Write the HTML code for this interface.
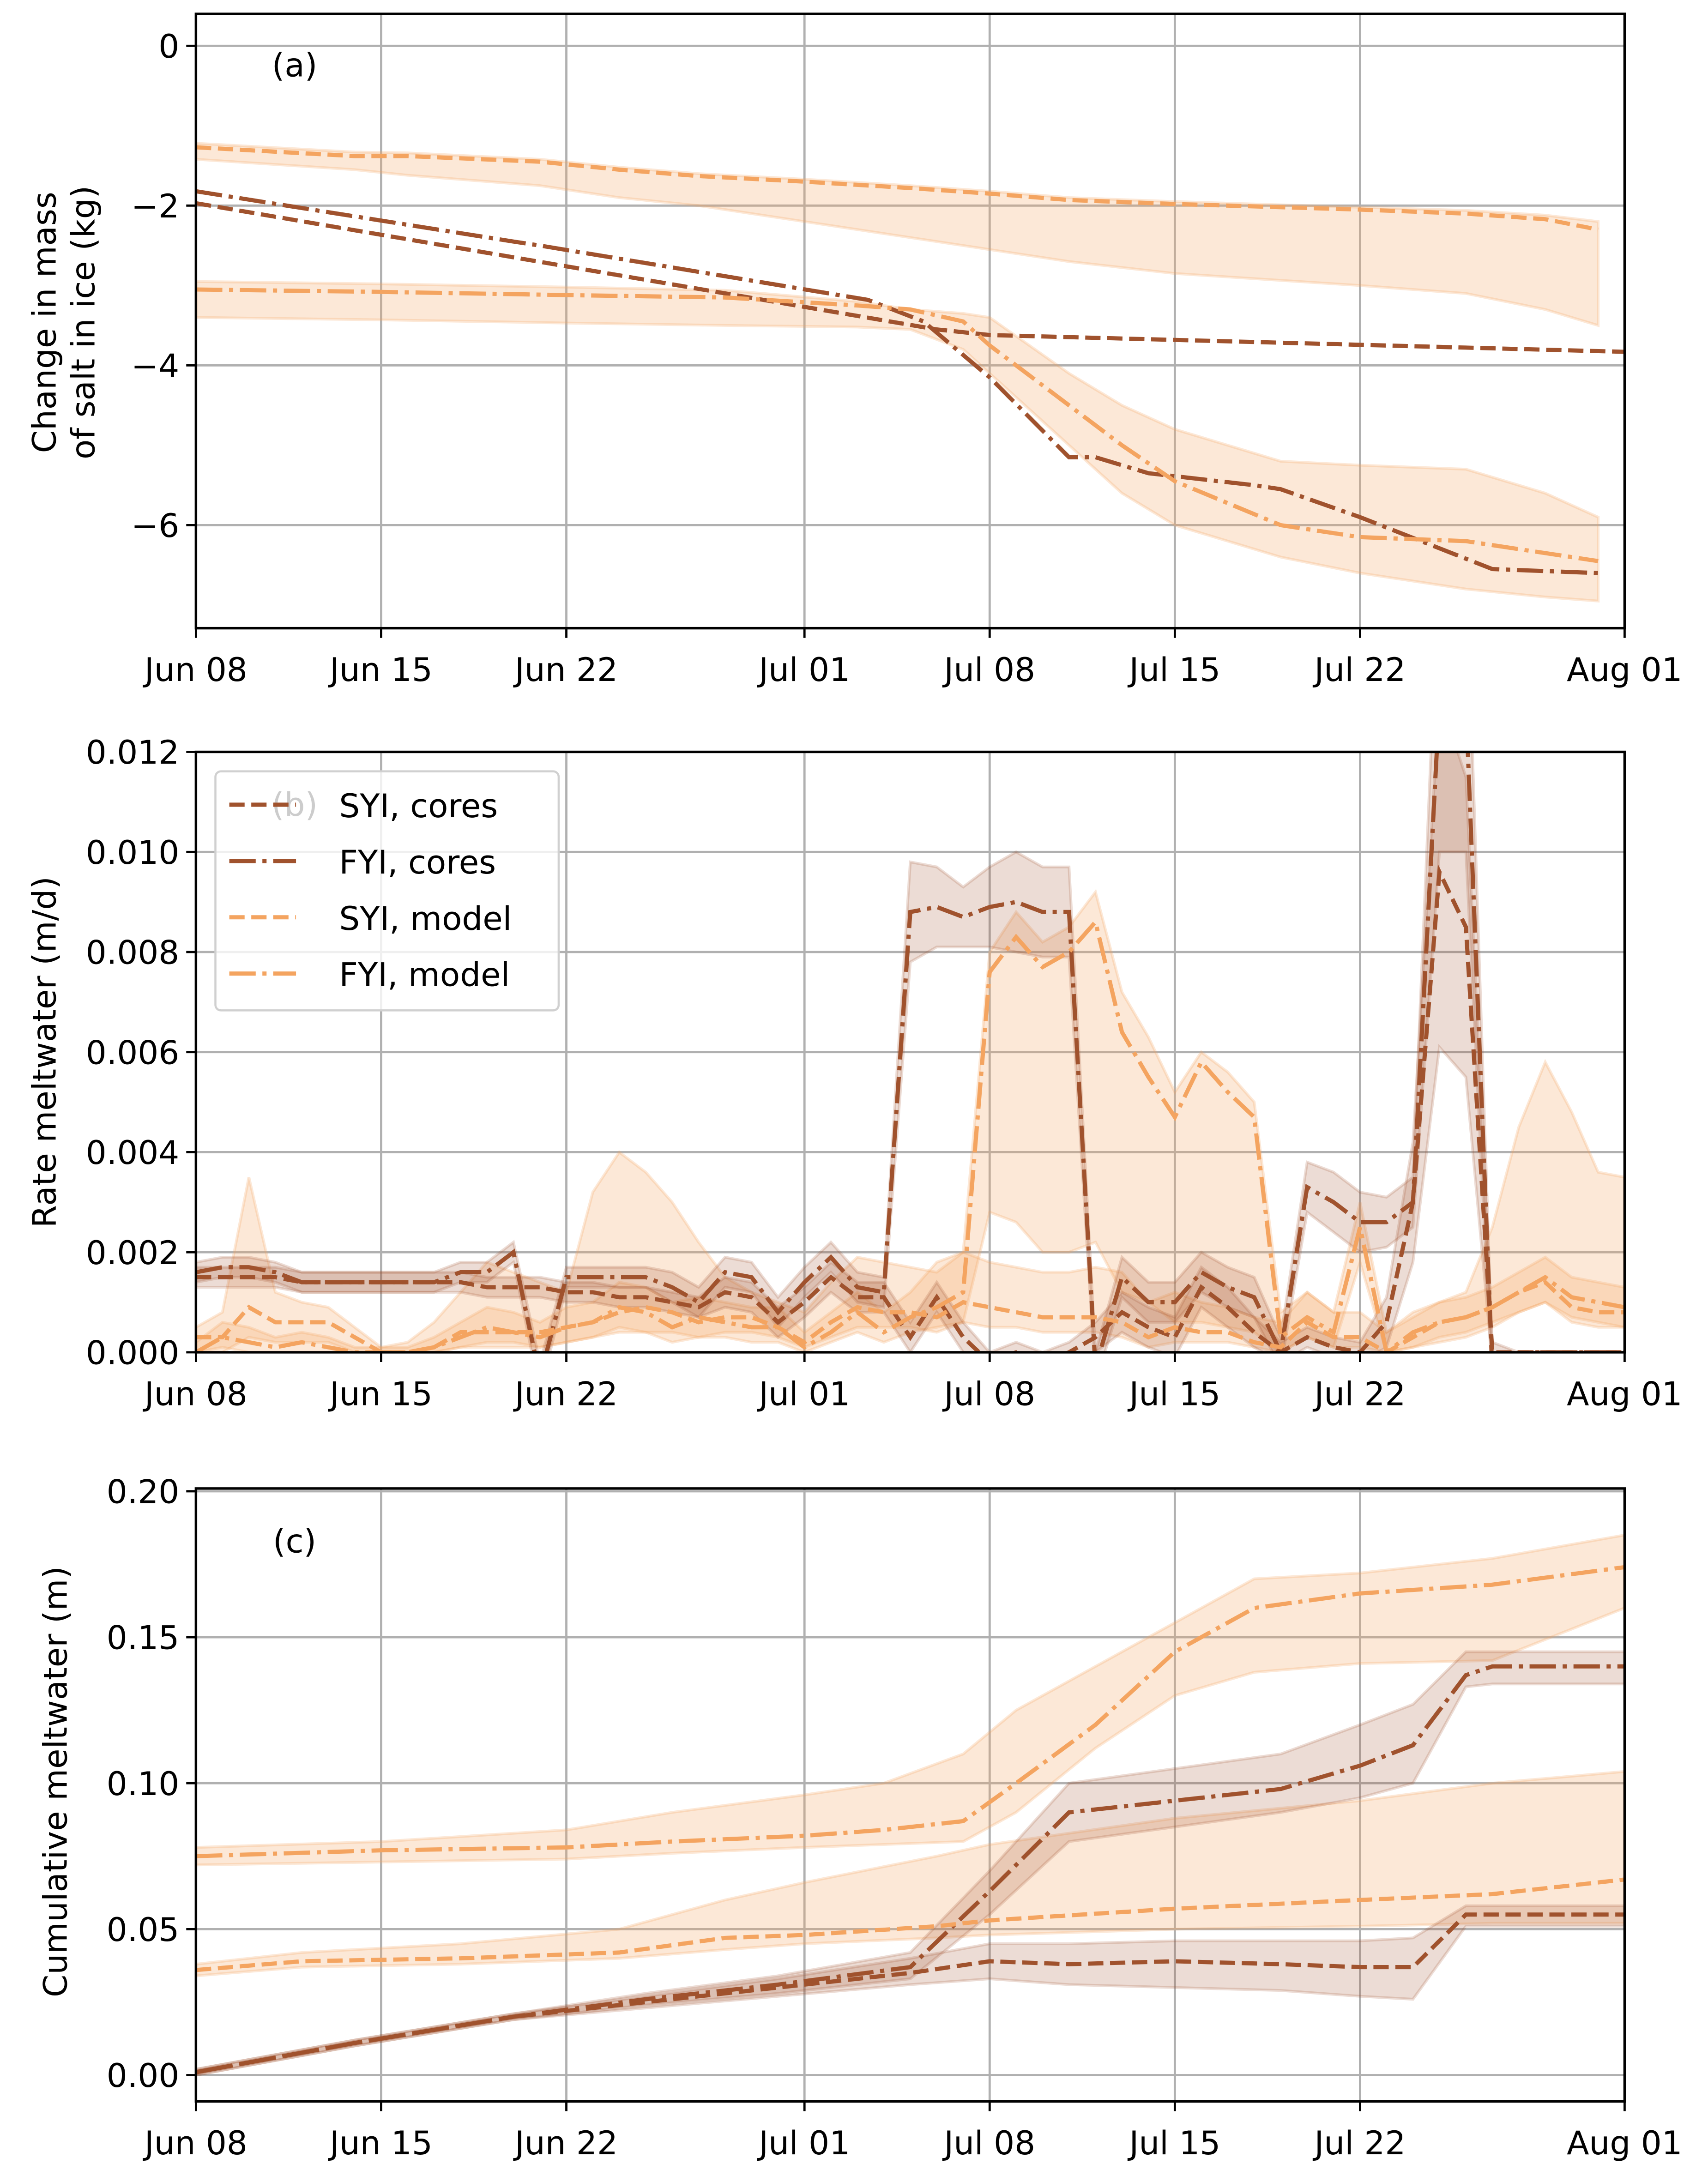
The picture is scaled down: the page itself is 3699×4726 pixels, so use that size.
<!DOCTYPE html>
<html><head><meta charset="utf-8"><style>html,body{margin:0;padding:0;background:#fff}svg{display:block}</style></head>
<body>
<svg id="fig" width="3699" height="4726" viewBox="0 0 1229 1570" preserveAspectRatio="none" xmlns="http://www.w3.org/2000/svg" font-family="DejaVu Sans, Liberation Sans, sans-serif"></svg>
<script>
// ---------- shared x axis ----------
const xTickDays = [0, 7, 14, 23, 30, 37, 44, 54];
const xTickLabels = ["Jun 08","Jun 15","Jun 22","Jul 01","Jul 08","Jul 15","Jul 22","Aug 01"];

// ---------- panel (a) data ----------
const aSyiCoreDays = [0, 28, 30, 54];
const aSyiCoreVals = [-1.97, -3.55, -3.62, -3.83];
const aFyiCoreDays = [0, 12, 13, 25.4, 27.5, 30, 33, 34, 36, 40, 41, 44, 49, 53];
const aFyiCoreVals = [-1.82, -2.45, -2.5, -3.18, -3.45, -4.15, -5.15, -5.15, -5.35, -5.5, -5.55, -5.9, -6.55, -6.6];
const aSyiModDays = [0, 6, 8, 13, 16, 19, 23, 27, 30, 33, 37, 44, 48, 51, 53];
const aSyiModVals = [-1.27, -1.38, -1.38, -1.45, -1.55, -1.63, -1.7, -1.78, -1.85, -1.93, -1.98, -2.05, -2.1, -2.17, -2.3];
const aSyiModHi = [-1.22, -1.33, -1.34, -1.42, -1.52, -1.6, -1.67, -1.75, -1.82, -1.9, -1.95, -2.02, -2.06, -2.12, -2.2];
const aSyiModLo = [-1.42, -1.55, -1.62, -1.75, -1.9, -2.0, -2.2, -2.4, -2.55, -2.7, -2.85, -3.0, -3.1, -3.3, -3.5];
const aFyiModDays = [0, 7, 14, 20, 25, 27, 29, 30, 33, 35, 37, 41, 44, 48, 51, 53];
const aFyiModVals = [-3.05, -3.08, -3.12, -3.15, -3.25, -3.3, -3.45, -3.75, -4.5, -5.0, -5.45, -6.0, -6.15, -6.2, -6.35, -6.45];
const aFyiModHi = [-2.95, -2.98, -3.02, -3.06, -3.2, -3.3, -3.35, -3.4, -4.1, -4.5, -4.8, -5.2, -5.25, -5.3, -5.6, -5.9];
const aFyiModLo = [-3.4, -3.43, -3.47, -3.5, -3.52, -3.55, -3.8, -4.1, -5.0, -5.6, -6.0, -6.4, -6.6, -6.8, -6.9, -6.95];
const aYTicks = [0, -2, -4, -6];

// ---------- panel (b) data (daily, Jun 08 .. Aug 01) ----------
const bDays = Array.from({length:55},(_, i)=>i);
const bFyiCore = [0.0016,0.0017,0.0017,0.0016,0.0014,0.0014,0.0014,0.0014,0.0014,0.0014,0.0016,0.0016,0.0020,-0.0005,0.0015,0.0015,0.0015,0.0015,0.0013,0.0010,0.0016,0.0015,0.0008,0.0014,0.0019,0.0013,0.0012,0.0088,0.0089,0.0087,0.0089,0.0090,0.0088,0.0088,-0.0003,0.0015,0.0010,0.0010,0.0016,0.0013,0.0011,0.0000,0.0033,0.0030,0.0026,0.0026,0.0030,0.0130,0.0130,-0.0004,0.0000,0.0000,0.0000,0.0000,0.0000];
const bFyiCoreSpread = [0.0002,0.0002,0.0002,0.0002,0.0002,0.0002,0.0002,0.0002,0.0002,0.0002,0.0002,0.0002,0.0002,0.0003,0.0002,0.0002,0.0002,0.0002,0.0003,0.0003,0.0003,0.0003,0.0003,0.0003,0.0003,0.0003,0.0003,0.0010,0.0008,0.0006,0.0008,0.0010,0.0009,0.0009,0.0003,0.0004,0.0004,0.0004,0.0004,0.0004,0.0004,0.0003,0.0005,0.0006,0.0006,0.0005,0.0005,0.0030,0.0030,0.0003,0.0000,0.0000,0.0000,0.0000,0.0000];
const bSyiCore = [0.0015,0.0015,0.0015,0.0015,0.0014,0.0014,0.0014,0.0014,0.0014,0.0014,0.0014,0.0013,0.0013,0.0013,0.0012,0.0012,0.0011,0.0011,0.0010,0.0009,0.0012,0.0011,0.0006,0.0010,0.0015,0.0011,0.0011,0.0003,0.0011,0.0003,-0.0002,0.0000,-0.0002,0.0000,0.0003,0.0008,0.0005,0.0003,0.0013,0.0009,0.0004,0.0000,0.0003,0.0001,0.0000,0.0006,0.0030,0.0096,0.0085,0.0000,0.0000,0.0000,0.0000,0.0000,0.0000];
const bSyiCoreSpread = [0.0002,0.0002,0.0002,0.0002,0.0002,0.0002,0.0002,0.0002,0.0002,0.0002,0.0002,0.0002,0.0002,0.0002,0.0002,0.0002,0.0002,0.0002,0.0002,0.0002,0.0003,0.0003,0.0003,0.0003,0.0003,0.0003,0.0003,0.0003,0.0003,0.0003,0.0002,0.0002,0.0002,0.0002,0.0003,0.0004,0.0004,0.0004,0.0004,0.0004,0.0003,0.0002,0.0002,0.0002,0.0002,0.0005,0.0012,0.0035,0.0030,0.0002,0.0000,0.0000,0.0000,0.0000,0.0000];
const bSyiMod = [0.0003,0.0003,0.0009,0.0006,0.0006,0.0006,0.0003,0.0000,0.0000,0.0001,0.0004,0.0004,0.0004,0.0004,0.0005,0.0006,0.0008,0.0009,0.0008,0.0006,0.0007,0.0007,0.0005,0.0002,0.0006,0.0009,0.0008,0.0008,0.0007,0.0010,0.0009,0.0008,0.0007,0.0007,0.0007,0.0006,0.0003,0.0005,0.0004,0.0004,0.0002,0.0001,0.0006,0.0003,0.0003,0.0000,0.0003,0.0006,0.0007,0.0009,0.0012,0.0014,0.0009,0.0008,0.0008];
const bSyiModHi = [0.0005,0.0008,0.0035,0.0012,0.0010,0.0009,0.0005,0.0001,0.0002,0.0006,0.0012,0.0018,0.0016,0.0014,0.0012,0.0032,0.0040,0.0036,0.0030,0.0022,0.0015,0.0012,0.0010,0.0008,0.0014,0.0019,0.0018,0.0017,0.0016,0.0020,0.0018,0.0017,0.0016,0.0016,0.0017,0.0016,0.0010,0.0012,0.0010,0.0009,0.0007,0.0006,0.0012,0.0008,0.0008,0.0004,0.0007,0.0010,0.0012,0.0025,0.0045,0.0058,0.0048,0.0036,0.0035];
const bSyiModLo = [0.0000,0.0000,0.0003,0.0002,0.0002,0.0002,0.0000,0.0000,0.0000,0.0000,0.0001,0.0001,0.0001,0.0001,0.0002,0.0003,0.0004,0.0004,0.0004,0.0003,0.0004,0.0004,0.0003,0.0001,0.0003,0.0005,0.0005,0.0005,0.0004,0.0006,0.0005,0.0005,0.0004,0.0004,0.0004,0.0003,0.0001,0.0002,0.0002,0.0002,0.0001,0.0000,0.0003,0.0001,0.0001,0.0000,0.0001,0.0003,0.0004,0.0006,0.0008,0.0010,0.0006,0.0005,0.0005];
const bFyiMod = [0.0000,0.0003,0.0002,0.0001,0.0002,0.0001,0.0000,0.0000,0.0000,0.0001,0.0003,0.0005,0.0004,0.0003,0.0005,0.0006,0.0009,0.0008,0.0005,0.0007,0.0006,0.0005,0.0005,0.0001,0.0004,0.0008,0.0004,0.0007,0.0009,0.0012,0.0076,0.0083,0.0077,0.0080,0.0086,0.0064,0.0055,0.0047,0.0058,0.0052,0.0047,0.0003,0.0007,0.0004,0.0025,0.0000,0.0004,0.0006,0.0007,0.0009,0.0012,0.0015,0.0011,0.0010,0.0009];
const bFyiModHi = [0.0002,0.0006,0.0005,0.0003,0.0004,0.0003,0.0001,0.0001,0.0001,0.0003,0.0006,0.0009,0.0008,0.0006,0.0009,0.0010,0.0014,0.0013,0.0010,0.0011,0.0010,0.0009,0.0009,0.0004,0.0008,0.0012,0.0008,0.0012,0.0018,0.0020,0.0080,0.0088,0.0082,0.0085,0.0092,0.0072,0.0063,0.0052,0.0060,0.0056,0.0050,0.0008,0.0012,0.0008,0.0030,0.0004,0.0008,0.0010,0.0011,0.0013,0.0016,0.0019,0.0015,0.0014,0.0013];
const bFyiModLo = [0.0000,0.0001,0.0000,0.0000,0.0000,0.0000,0.0000,0.0000,0.0000,0.0000,0.0001,0.0002,0.0002,0.0001,0.0002,0.0003,0.0005,0.0004,0.0002,0.0003,0.0003,0.0002,0.0002,0.0000,0.0002,0.0004,0.0002,0.0004,0.0005,0.0006,0.0028,0.0026,0.0020,0.0020,0.0022,0.0012,0.0010,0.0006,0.0006,0.0005,0.0004,0.0000,0.0003,0.0001,0.0018,0.0000,0.0001,0.0002,0.0003,0.0005,0.0008,0.0010,0.0007,0.0006,0.0005];
const bYTicks = [0, 0.002, 0.004, 0.006, 0.008, 0.010, 0.012];
const bYTickLabels = ["0.000","0.002","0.004","0.006","0.008","0.010","0.012"];

// ---------- panel (c) data ----------
const cSyiCoreDays = [0, 6, 12, 17, 22, 27, 30, 33, 37, 41, 44, 46, 48, 54];
const cSyiCoreVals = [0.001, 0.011, 0.020, 0.025, 0.030, 0.035, 0.039, 0.038, 0.039, 0.038, 0.037, 0.037, 0.055, 0.055];
const cSyiCoreHi = [0.002, 0.012, 0.021, 0.027, 0.033, 0.040, 0.045, 0.045, 0.046, 0.046, 0.046, 0.047, 0.058, 0.058];
const cSyiCoreLo = [0.000, 0.010, 0.019, 0.023, 0.027, 0.031, 0.033, 0.031, 0.030, 0.029, 0.027, 0.026, 0.051, 0.051];
const cFyiCoreDays = [0, 6, 12, 17, 22, 27, 30, 33, 37, 41, 44, 46, 48, 49, 54];
const cFyiCoreVals = [0.001, 0.011, 0.020, 0.026, 0.031, 0.037, 0.063, 0.090, 0.094, 0.098, 0.106, 0.113, 0.137, 0.140, 0.140];
const cFyiCoreHi = [0.002, 0.012, 0.021, 0.028, 0.034, 0.042, 0.070, 0.100, 0.105, 0.110, 0.120, 0.127, 0.145, 0.145, 0.145];
const cFyiCoreLo = [0.000, 0.010, 0.019, 0.024, 0.028, 0.033, 0.055, 0.080, 0.085, 0.090, 0.095, 0.100, 0.133, 0.134, 0.134];
const cSyiModDays = [0, 4, 10, 16, 20, 23, 28, 30, 37, 44, 49, 54];
const cSyiModVals = [0.036, 0.039, 0.040, 0.042, 0.047, 0.048, 0.051, 0.053, 0.057, 0.060, 0.062, 0.067];
const cSyiModHi = [0.038, 0.042, 0.045, 0.050, 0.060, 0.066, 0.075, 0.079, 0.088, 0.094, 0.100, 0.104];
const cSyiModLo = [0.034, 0.037, 0.038, 0.040, 0.043, 0.045, 0.047, 0.048, 0.050, 0.051, 0.052, 0.052];
const cFyiModDays = [0, 7, 14, 18, 23, 26, 29, 31, 34, 37, 40, 44, 49, 54];
const cFyiModVals = [0.075, 0.077, 0.078, 0.080, 0.082, 0.084, 0.087, 0.100, 0.120, 0.145, 0.160, 0.165, 0.168, 0.174];
const cFyiModHi = [0.078, 0.080, 0.084, 0.090, 0.096, 0.100, 0.110, 0.125, 0.140, 0.155, 0.170, 0.172, 0.177, 0.185];
const cFyiModLo = [0.072, 0.073, 0.074, 0.076, 0.078, 0.079, 0.080, 0.090, 0.112, 0.130, 0.138, 0.141, 0.142, 0.160];
const cYTicks = [0, 0.05, 0.10, 0.15, 0.20];
const cYTickLabels = ["0.00","0.05","0.10","0.15","0.20"];

// ---------- drawing ----------
const NS = "http://www.w3.org/2000/svg";
const svg = document.getElementById("fig");
const DARK = "#a0522d", LIGHT = "#f4a460";
const DASH = "11,4.8", DASHDOT = "19,4.8,3,4.8";
const FS = 23.5;
const X0 = 141, X1 = 1169, DAYSPAN = 54;
function xs(d){ return X0 + (X1 - X0) * d / DAYSPAN; }
function mk(tag, attrs, parent){ const e = document.createElementNS(NS, tag); for (const k in attrs) e.setAttribute(k, attrs[k]); (parent||svg).appendChild(e); return e; }

function panel(id, top, bottom, vTop, vBot, yticks, ylabels){
  const g = mk("g", {});
  
  
  const ys = v => top + (bottom - top) * (vTop - v) / (vTop - vBot);
  const cp = mk("clipPath", {id: "clip-" + id}, g);
  mk("rect", {x: X0, y: top, width: X1 - X0, height: bottom - top}, cp);
  xTickDays.forEach((d, i) => {
    const l = mk("line", {x1: xs(d), x2: xs(d), y1: top, y2: bottom, stroke: "#b0b0b0", "stroke-width": 1.6}, g);
    
    
    mk("line", {x1: xs(d), x2: xs(d), y1: bottom, y2: bottom + 7, stroke: "#000", "stroke-width": 1.6}, g);
    const t = mk("text", {x: xs(d), y: bottom + 38, "font-size": FS, "text-anchor": "middle", fill: "#000"}, g);
    t.textContent = xTickLabels[i];
    
    
  });
  yticks.forEach((v, i) => {
    const l = mk("line", {x1: X0, x2: X1, y1: ys(v), y2: ys(v), stroke: "#b0b0b0", "stroke-width": 1.6}, g);
    
    
    mk("line", {x1: X0 - 7, x2: X0, y1: ys(v), y2: ys(v), stroke: "#000", "stroke-width": 1.6}, g);
    const t = mk("text", {x: X0 - 12, y: ys(v) + 8.5, "font-size": FS, "text-anchor": "end", fill: "#000"}, g);
    t.textContent = ylabels[i];
    
    
  });
  const plot = mk("g", {"clip-path": "url(#clip-" + id + ")"}, g);
  return {g, plot, ys, top, bottom};
}
function band(P, days, lo, hi, color, op, name){
  let d = "";
  days.forEach((x, i) => d += (i ? "L" : "M") + xs(x) + "," + P.ys(hi[i]));
  for (let i = days.length - 1; i >= 0; i--) d += "L" + xs(days[i]) + "," + P.ys(lo[i]);
  const p = mk("path", {d: d + "Z", fill: color, "fill-opacity": op, stroke: color, "stroke-opacity": op, "stroke-width": 2}, P.plot);
  
  
}
function line(P, days, vals, color, dash, name){
  const pts = days.map((x, i) => xs(x) + "," + P.ys(vals[i])).join(" ");
  const p = mk("polyline", {points: pts, fill: "none", stroke: color, "stroke-width": 3, "stroke-dasharray": dash}, P.plot);
  
  
}
function frame(P){
  const r = mk("rect", {x: X0, y: P.top, width: X1 - X0, height: P.bottom - P.top, fill: "none", stroke: "#000", "stroke-width": 1.8}, P.g);
  
  
}
function text(P, x, y, str, size, name, rot, anchor, fill){
  const t = mk("text", {x, y, "font-size": size, "text-anchor": anchor || "middle", fill: fill || "#000"}, P.g);
  if (rot) t.setAttribute("transform", "rotate(-90 " + x + " " + y + ")");
  t.textContent = str;
  
  
  return t;
}
function spreadLo(v, s){ return v.map((x, i) => x - s[i]); }
function spreadHi(v, s){ return v.map((x, i) => x + s[i]); }

// Panel a
const A = panel("a", 10, 452, 0.4, -7.29, aYTicks, aYTicks.map(v => v === 0 ? "0" : "\u2212" + Math.abs(v)));
band(A, aSyiModDays, aSyiModLo, aSyiModHi, LIGHT, 0.25, "syi-model-band");
band(A, aFyiModDays, aFyiModLo, aFyiModHi, LIGHT, 0.25, "fyi-model-band");
line(A, aSyiCoreDays, aSyiCoreVals, DARK, DASH, "syi-cores-line");
line(A, aFyiCoreDays, aFyiCoreVals, DARK, DASHDOT, "fyi-cores-line");
line(A, aSyiModDays, aSyiModVals, LIGHT, DASH, "syi-model-line");
line(A, aFyiModDays, aFyiModVals, LIGHT, DASHDOT, "fyi-model-line");
frame(A);
text(A, 212, 55, "(a)", FS, "panel-label-a");
text(A, 40, 232, "Change in mass", FS, "y-axis-title-a-line1", true);
text(A, 68, 232, "of salt in ice (kg)", FS, "y-axis-title-a-line2", true);

// Panel b
const B = panel("b", 541, 973, 0.012, 0, bYTicks, bYTickLabels);
band(B, bDays, bSyiModLo, bSyiModHi, LIGHT, 0.25, "syi-model-band");
band(B, bDays, bFyiModLo, bFyiModHi, LIGHT, 0.25, "fyi-model-band");
band(B, bDays, spreadLo(bSyiCore, bSyiCoreSpread), spreadHi(bSyiCore, bSyiCoreSpread), DARK, 0.2, "syi-cores-band");
band(B, bDays, spreadLo(bFyiCore, bFyiCoreSpread), spreadHi(bFyiCore, bFyiCoreSpread), DARK, 0.2, "fyi-cores-band");
line(B, bDays, bSyiCore, DARK, DASH, "syi-cores-line");
line(B, bDays, bFyiCore, DARK, DASHDOT, "fyi-cores-line");
line(B, bDays, bSyiMod, LIGHT, DASH, "syi-model-line");
line(B, bDays, bFyiMod, LIGHT, DASHDOT, "fyi-model-line");
frame(B);
text(B, 212, 587, "(b)", FS, "panel-label-b");
text(B, 40, 757, "Rate meltwater (m/d)", FS, "y-axis-title-b", true);
const lg = mk("g", {}, B.g);


mk("rect", {x: 155, y: 555, width: 247, height: 172, rx: 4, fill: "#fff", "fill-opacity": 0.8, stroke: "#d0d0d0", "stroke-width": 1.5}, lg);
const legNames = ["SYI, cores", "FYI, cores", "SYI, model", "FYI, model"];
const legColors = [DARK, DARK, LIGHT, LIGHT];
const legDash = [DASH, DASHDOT, DASH, DASHDOT];
legNames.forEach((n, i) => {
  const y = 579 + i * 40.5;
  const e = mk("g", {}, lg);
  
  
  mk("line", {x1: 165, x2: 213, y1: y, y2: y, stroke: legColors[i], "stroke-width": 3, "stroke-dasharray": legDash[i]}, e);
  const t = mk("text", {x: 244, y: y + 9, "font-size": FS, fill: "#000"}, e);
  t.textContent = n;
});

// Panel c
const C = panel("c", 1071, 1512, 0.20095, -0.0090, cYTicks, cYTickLabels);
band(C, cSyiModDays, cSyiModLo, cSyiModHi, LIGHT, 0.25, "syi-model-band");
band(C, cFyiModDays, cFyiModLo, cFyiModHi, LIGHT, 0.25, "fyi-model-band");
band(C, cSyiCoreDays, cSyiCoreLo, cSyiCoreHi, DARK, 0.2, "syi-cores-band");
band(C, cFyiCoreDays, cFyiCoreLo, cFyiCoreHi, DARK, 0.2, "fyi-cores-band");
line(C, cSyiCoreDays, cSyiCoreVals, DARK, DASH, "syi-cores-line");
line(C, cFyiCoreDays, cFyiCoreVals, DARK, DASHDOT, "fyi-cores-line");
line(C, cSyiModDays, cSyiModVals, LIGHT, DASH, "syi-model-line");
line(C, cFyiModDays, cFyiModVals, LIGHT, DASHDOT, "fyi-model-line");
frame(C);
text(C, 212, 1117, "(c)", FS, "panel-label-c");
text(C, 48, 1282, "Cumulative meltwater (m)", FS, "y-axis-title-c", true);
</script>
</body></html>
